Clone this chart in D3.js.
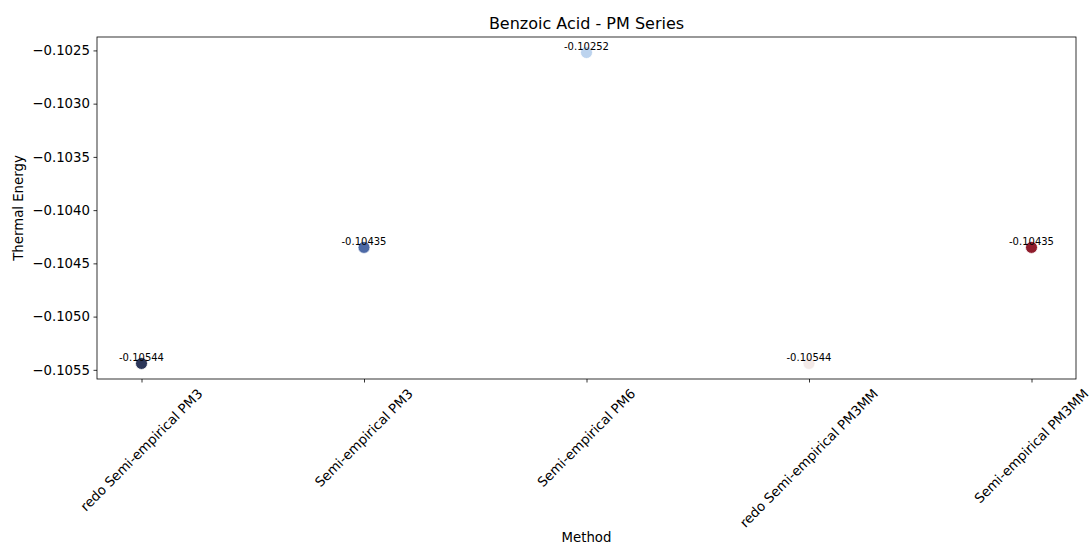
<!DOCTYPE html>
<html><head><meta charset="utf-8">
<script src="https://cdn.jsdelivr.net/npm/d3@7"></script>
<style>body{margin:0;background:#fff}svg{display:block}text{font-family:"DejaVu Sans",sans-serif}</style>
</head><body><svg id="c" width="1089" height="547"></svg>
<script>
const methods=["redo Semi-empirical PM3","Semi-empirical PM3","Semi-empirical PM6","redo Semi-empirical PM3MM","Semi-empirical PM3MM"];
const values=[-0.10544,-0.10435,-0.10252,-0.10544,-0.10435];
const labels=["-0.10544","-0.10435","-0.10252","-0.10544","-0.10435"];
const colors=["#2b3659","#4d69a6","#bcd3ee","#f3e9e7","#8f1c2c"];
const yTicks=[-0.1055,-0.1050,-0.1045,-0.1040,-0.1035,-0.1030,-0.1025];

const svg=d3.select("#c");
const L=97,R=1076,T=37,B=379;
const x=d3.scaleLinear().domain([-0.2,methods.length-1+0.2]).range([L,R]);
const ymin=d3.min(values),ymax=d3.max(values),pad=(ymax-ymin)*0.05;
const y=d3.scaleLinear().domain([ymin-pad,ymax+pad]).range([B,T]);

const ya=svg.append("g").attr("transform",`translate(${L},0)`)
 .call(d3.axisLeft(y).tickValues(yTicks).tickSize(3.5).tickPadding(3.5).tickFormat(d=>d3.format(".4f")(d).replace("-","\u2212")));
ya.select(".domain").remove();
ya.selectAll("text").attr("font-size","13.3px").attr("fill","#000");
ya.selectAll("line").attr("stroke","#000").attr("stroke-width",0.8);

const xa=svg.append("g").attr("transform",`translate(0,${B})`)
 .call(d3.axisBottom(x).tickValues(d3.range(methods.length)).tickSize(3.5).tickFormat(""));
xa.select(".domain").remove();
xa.selectAll("line").attr("stroke","#000").attr("stroke-width",0.8);

const fs=13.3;
methods.forEach((m,i)=>{
  const t=svg.append("text").attr("font-size",fs+"px").attr("fill","#000").text(m);
  const w=t.node().getComputedTextLength();
  const h=fs*1.16;
  const bh=(w+h)*Math.SQRT1_2;
  const cx=x(i),cy=B+3.5+3.5+bh/2;
  t.attr("text-anchor","middle").attr("dominant-baseline","central")
   .attr("transform",`translate(${cx},${cy}) rotate(-45)`);
});

svg.append("rect").attr("x",L).attr("y",T).attr("width",R-L).attr("height",B-T)
 .attr("fill","none").attr("stroke","#000").attr("stroke-width",0.8);

svg.append("g").selectAll("circle").data(values).join("circle")
 .attr("cx",(d,i)=>x(i)).attr("cy",d=>y(d)).attr("r",6)
 .attr("fill",(d,i)=>colors[i]).attr("stroke","#fff").attr("stroke-width",0.8);

svg.append("g").selectAll("text").data(values).join("text")
 .attr("x",(d,i)=>x(i)).attr("y",d=>y(d)-2.5).attr("text-anchor","middle")
 .attr("font-size","10px").attr("fill","#000").text((d,i)=>labels[i]);

svg.append("text").attr("x",(L+R)/2).attr("y",29).attr("text-anchor","middle").attr("font-size","16px").text("Benzoic Acid - PM Series");
svg.append("text").attr("x",(L+R)/2).attr("y",542).attr("text-anchor","middle").attr("font-size","13.3px").text("Method");
svg.append("text").attr("transform",`translate(23,${(T+B)/2}) rotate(-90)`).attr("text-anchor","middle").attr("font-size","13.3px").text("Thermal Energy");
</script></body></html>
